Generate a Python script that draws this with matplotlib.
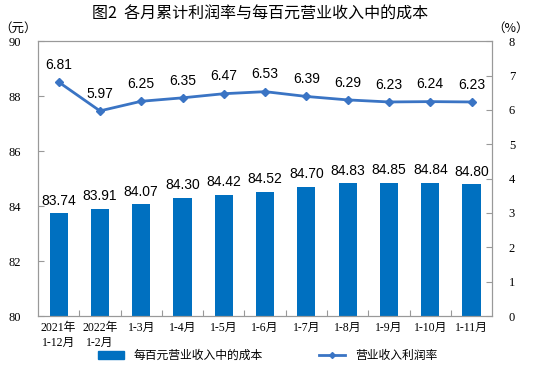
import matplotlib.pyplot as plt
from matplotlib.lines import Line2D
from matplotlib.patches import Patch

plt.rcParams['font.family'] = ['Liberation Serif', 'Noto Sans CJK SC']

months = ['2021年\n1-12月', '2022年\n1-2月', '1-3月', '1-4月', '1-5月', '1-6月',
          '1-7月', '1-8月', '1-9月', '1-10月', '1-11月']
cost = [83.74, 83.91, 84.07, 84.30, 84.42, 84.52, 84.70, 84.83, 84.85, 84.84, 84.80]
margin = [6.81, 5.97, 6.25, 6.35, 6.47, 6.53, 6.39, 6.29, 6.23, 6.24, 6.23]

bar_c = '#0070C0'
line_c = '#3A74C4'
lab_font = ['Liberation Sans', 'Noto Sans CJK SC']

fig = plt.figure(figsize=(5.35, 3.74), dpi=100)
ax = fig.add_axes([0.071, 0.155, 0.849, 0.735])
x = list(range(len(months)))
ax.bar(x, cost, width=0.44, color=bar_c, bottom=0)
ax.set_ylim(80, 90)
ax.set_xlim(-0.5, len(months) - 0.5)
ax.set_yticks(range(80, 91, 2))
for i, v in enumerate(cost):
    ax.text(i, v + 0.2, f'{v:.2f}', ha='center', va='bottom', fontsize=10, family=lab_font)

ax2 = ax.twinx()
ax2.plot(x, margin, color=line_c, lw=2, marker='D', ms=4)
ax2.set_ylim(0, 8)
ax2.set_yticks(range(0, 9))
for i, v in enumerate(margin):
    ax2.text(i, v + 0.3, f'{v:.2f}', ha='center', va='bottom', fontsize=10, family=lab_font)

ax.set_xticks([i + 0.5 for i in x[:-1]], minor=False)
ax.set_xticklabels([])
ax.set_xticks(x, minor=True)
ax.set_xticklabels(months, minor=True, fontsize=8.5, family=['Liberation Serif', 'Noto Sans CJK SC'])
ax.tick_params(axis='x', which='minor', length=0, pad=4)
ax.tick_params(axis='x', which='major', direction='in', length=4, color='#999999')
ax.tick_params(axis='y', direction='in', length=4, color='#999999', labelsize=9, pad=12)
ax2.tick_params(axis='y', direction='in', length=4, color='#999999', labelsize=9, pad=12)
for a in (ax, ax2):
    for s in a.spines.values():
        s.set_color('#999999')
for lbl in ax.get_xticklabels(minor=True):
    lbl.set_linespacing(1.4)

fig.text(0.487, 0.962, '图2  各月累计利润率与每百元营业收入中的成本', ha='center', va='center',
         fontsize=11.5, family='Noto Sans CJK SC', fontweight='medium')
fig.text(0.034, 0.925, '（元）', ha='center', va='center', fontsize=9, family='Noto Sans CJK SC')
fig.text(0.955, 0.925, '（%）', ha='center', va='center', fontsize=9, family='Noto Sans CJK SC')

handles = [Patch(color=bar_c), Line2D([], [], color=line_c, lw=2, marker='D', ms=3)]
fig.legend(handles, ['每百元营业收入中的成本', '营业收入利润率'], loc='center',
           bbox_to_anchor=(0.5, 0.05), ncol=2, frameon=False, columnspacing=4.8,
           handlelength=2.2, prop={'family': 'Noto Sans CJK SC', 'size': 8.5})

fig.savefig('out.png', dpi=100)
